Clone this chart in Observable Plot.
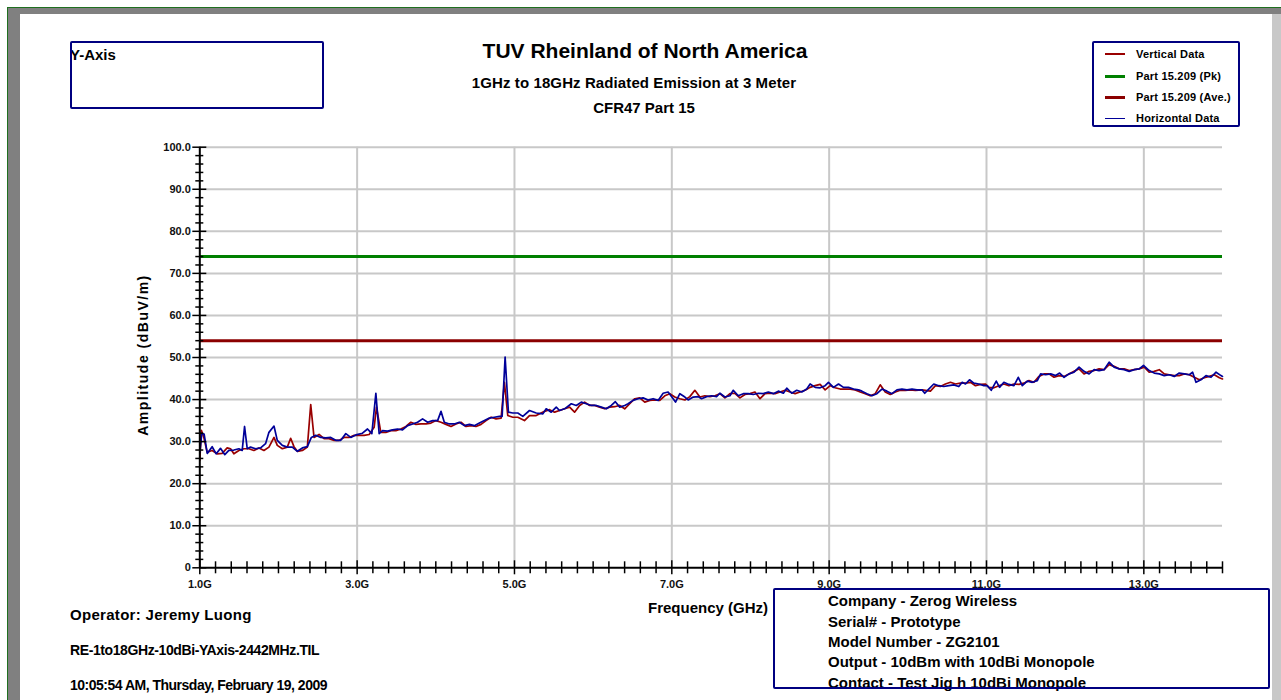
<!DOCTYPE html>
<html><head><meta charset="utf-8">
<script src="https://cdn.jsdelivr.net/npm/d3@7"></script>
<script src="https://cdn.jsdelivr.net/npm/@observablehq/plot@0.6"></script>
<style>
body{margin:0;background:#fff;}
#page{position:relative;width:1281px;height:700px;overflow:hidden;background:#fff;font-family:"Liberation Sans",Arial,sans-serif;font-weight:bold;color:#000;}
.t{position:absolute;white-space:nowrap;line-height:1;}
.box{position:absolute;box-sizing:border-box;border:2.5px solid #000080;border-radius:2px;}
.blk{position:absolute;}
#plotwrap{position:absolute;left:0;top:120px;}
</style></head>
<body><div id="page"><div id="plotwrap"></div></div>
<script>
// ---------------- data ----------------
const vertFreq = [1.000,1.020,1.051,1.093,1.157,1.221,1.284,1.348,1.391,1.433,1.497,1.560,1.624,1.688,1.752,1.815,1.879,1.943,1.985,2.049,2.112,2.155,2.197,2.240,2.304,2.367,2.410,2.452,2.516,2.580,2.643,2.707,2.771,2.834,2.898,2.962,3.025,3.089,3.153,3.216,3.246,3.301,3.365,3.429,3.492,3.556,3.620,3.683,3.747,3.811,3.875,3.938,4.002,4.066,4.129,4.193,4.257,4.320,4.384,4.448,4.511,4.575,4.639,4.703,4.766,4.830,4.872,4.915,4.979,5.042,5.127,5.191,5.276,5.382,5.446,5.510,5.573,5.637,5.701,5.764,5.828,5.892,5.955,6.019,6.083,6.147,6.210,6.274,6.338,6.401,6.465,6.529,6.592,6.656,6.720,6.783,6.847,6.911,6.974,7.038,7.102,7.166,7.229,7.293,7.357,7.420,7.484,7.548,7.611,7.675,7.739,7.802,7.866,7.930,7.993,8.057,8.121,8.185,8.248,8.312,8.376,8.439,8.503,8.567,8.630,8.694,8.758,8.822,8.885,8.949,9.013,9.076,9.140,9.204,9.267,9.331,9.395,9.458,9.522,9.586,9.649,9.713,9.777,9.841,9.904,9.968,10.032,10.095,10.181,10.223,10.287,10.351,10.415,10.478,10.542,10.606,10.669,10.733,10.797,10.860,10.924,10.988,11.030,11.094,11.158,11.221,11.285,11.349,11.412,11.476,11.540,11.603,11.667,11.731,11.794,11.858,11.922,11.986,12.049,12.113,12.177,12.240,12.304,12.368,12.431,12.495,12.559,12.622,12.686,12.750,12.814,12.877,12.941,13.005,13.068,13.132,13.196,13.259,13.323,13.387,13.450,13.514,13.578,13.641,13.705,13.769,13.832,13.896,13.960,14.000];
const vertAmp = [25.5,32.7,31.0,27.5,27.9,27.1,27.2,28.5,28.3,27.1,27.9,28.3,28.3,27.9,28.5,27.9,28.7,31.0,29.1,28.3,28.7,30.8,28.8,27.7,27.9,28.7,38.8,31.0,31.7,30.7,30.7,30.3,30.3,31.0,31.0,31.5,31.5,31.5,31.7,33.4,38.2,32.2,32.2,32.6,32.6,33.0,33.6,34.6,34.1,34.2,34.2,34.4,35.0,34.6,34.1,33.6,34.2,34.6,33.6,33.8,33.6,34.1,35.0,35.8,35.4,35.6,44.1,36.2,35.8,35.8,35.0,36.2,36.2,37.2,37.6,37.0,37.4,37.8,38.2,37.0,38.6,39.4,38.6,38.6,38.2,37.8,38.2,38.3,38.6,37.8,39.0,40.2,40.4,39.4,39.8,39.9,39.8,40.9,41.4,40.6,40.2,39.9,40.7,42.2,40.6,40.9,40.7,40.9,41.4,40.4,41.4,41.5,40.4,41.2,41.4,41.8,40.2,41.4,41.5,41.4,41.8,42.2,41.8,41.4,41.8,42.2,42.9,43.3,43.6,42.3,43.3,42.8,42.5,42.5,42.5,42.3,41.8,41.4,40.9,41.4,43.5,41.8,41.2,41.8,42.2,42.2,42.3,42.2,42.3,42.2,42.0,43.3,43.1,43.7,44.1,43.7,43.9,43.9,44.1,43.3,43.6,43.7,42.9,42.8,43.3,43.7,43.3,43.7,43.6,43.9,44.5,44.1,45.5,46.1,46.1,45.3,45.7,45.5,46.1,46.7,47.3,46.1,46.7,46.9,47.3,47.1,48.3,47.9,47.3,47.3,46.9,47.1,47.3,47.7,46.5,46.7,47.1,46.1,45.9,45.7,45.7,46.1,45.9,45.3,44.7,45.2,45.5,45.9,45.2,44.9];
const horizFreq = [1.000,1.025,1.055,1.095,1.157,1.208,1.263,1.318,1.369,1.433,1.497,1.539,1.569,1.603,1.645,1.709,1.773,1.836,1.879,1.943,1.985,2.049,2.112,2.176,2.240,2.304,2.367,2.418,2.473,2.537,2.601,2.664,2.728,2.792,2.856,2.919,2.983,3.068,3.132,3.187,3.238,3.280,3.323,3.386,3.450,3.514,3.577,3.641,3.705,3.768,3.832,3.896,3.960,4.023,4.066,4.108,4.172,4.235,4.299,4.363,4.427,4.490,4.554,4.618,4.681,4.745,4.809,4.843,4.881,4.923,4.978,5.042,5.106,5.191,5.276,5.361,5.403,5.467,5.531,5.573,5.637,5.722,5.786,5.849,5.913,5.977,6.040,6.104,6.168,6.231,6.282,6.338,6.401,6.444,6.507,6.571,6.635,6.698,6.762,6.826,6.890,6.953,7.017,7.047,7.102,7.166,7.208,7.272,7.335,7.378,7.442,7.505,7.569,7.611,7.675,7.739,7.781,7.845,7.909,7.972,8.036,8.100,8.163,8.227,8.291,8.354,8.418,8.461,8.524,8.588,8.652,8.715,8.758,8.822,8.885,8.949,8.991,9.055,9.119,9.182,9.246,9.310,9.374,9.416,9.480,9.543,9.607,9.671,9.734,9.798,9.862,9.925,9.989,10.053,10.116,10.181,10.215,10.266,10.330,10.393,10.457,10.521,10.584,10.648,10.691,10.733,10.784,10.839,10.903,10.967,11.009,11.060,11.124,11.166,11.221,11.285,11.349,11.404,11.455,11.518,11.582,11.646,11.688,11.752,11.816,11.879,11.930,11.986,12.049,12.113,12.177,12.240,12.304,12.368,12.431,12.495,12.559,12.622,12.686,12.750,12.814,12.877,12.941,12.996,13.068,13.132,13.196,13.259,13.323,13.387,13.450,13.514,13.578,13.620,13.663,13.726,13.790,13.854,13.918,13.981,14.000];
const horizAmp = [27.4,31.9,31.8,27.2,28.8,27.1,28.4,26.9,27.9,28.0,28.3,27.9,33.6,28.3,28.7,28.3,28.5,29.5,32.2,33.7,30.3,29.1,28.7,28.7,27.7,28.5,28.8,31.0,31.5,31.0,30.9,31.0,30.3,30.3,31.9,31.0,31.6,32.0,33.0,31.9,41.5,31.9,32.6,32.5,32.8,33.0,32.8,33.8,34.2,34.6,35.4,34.6,35.0,35.0,37.2,34.6,34.2,34.2,34.6,33.8,34.1,33.8,34.4,35.0,35.6,35.8,36.0,36.0,50.1,37.0,36.8,36.8,36.0,37.4,36.8,36.6,37.8,37.0,38.2,37.4,37.8,39.0,38.6,39.4,39.0,38.6,38.6,38.2,37.8,38.6,39.5,38.2,38.6,39.0,39.8,40.2,40.4,39.9,40.2,39.8,41.5,41.8,40.2,39.4,41.4,40.6,39.9,40.6,40.7,40.2,40.7,40.9,40.7,41.5,40.6,40.9,42.2,40.9,41.4,41.4,41.2,41.5,41.4,41.8,41.4,42.0,41.5,42.7,41.5,42.2,41.8,42.5,43.7,42.9,42.8,43.3,44.1,42.9,43.7,42.9,42.9,42.5,42.3,42.0,41.4,40.9,41.4,42.5,42.0,41.4,42.3,42.5,42.3,42.5,42.3,42.3,41.5,42.5,43.7,43.3,43.1,43.3,43.5,43.1,44.1,43.7,44.7,43.9,43.7,43.3,43.3,42.2,44.4,42.9,44.1,43.6,43.3,45.3,43.3,44.4,44.1,44.5,46.1,45.9,46.1,45.7,46.3,45.3,46.1,46.5,47.7,46.7,46.1,47.1,46.9,47.1,48.9,47.7,47.3,47.1,46.7,47.1,47.3,48.1,46.9,46.3,46.1,45.7,45.9,45.5,46.3,46.1,45.9,46.5,44.1,44.7,45.7,45.3,46.5,45.7,45.5];
const limitPk = 74;    // Part 15.209 (Pk)
const limitAve = 54;   // Part 15.209 (Ave.)
const xMajor = [1, 3, 5, 7, 9, 11, 13];
const xTickLabels = ["1.0G","3.0G","5.0G","7.0G","9.0G","11.0G","13.0G"];
const yMajor = [0, 10, 20, 30, 40, 50, 60, 70, 80, 90, 100];
const yTickLabels = ["0","10.0","20.0","30.0","40.0","50.0","60.0","70.0","80.0","90.0","100.0"];
const xDomain = [1, 14];
const yDomain = [0, 100];
const seriesNames = ["Vertical Data","Part 15.209 (Pk)","Part 15.209 (Ave.)","Horizontal Data"];
const seriesColors = ["#990000","#008000","#8b0000","#000099"];

// ---------------- chart ----------------
const vertical = vertFreq.map((f, i) => ({f, a: vertAmp[i]}));
const horizontal = horizFreq.map((f, i) => ({f, a: horizAmp[i]}));
const xMinor = d3.range(xDomain[0], xDomain[1] + 0.001, 0.2).map(v => +v.toFixed(1)).filter(v => !xMajor.includes(v));
const yMinor = d3.range(0, 101, 2).filter(v => !yMajor.includes(v));
const FONT = '"Liberation Sans", Arial, sans-serif';

const plot = Plot.plot({
  width: 1281, height: 480,
  marginTop: 26.7, marginBottom: 32.7, marginLeft: 199.3, marginRight: 59,
  style: {background: "transparent", fontFamily: FONT, fontSize: "11px", fontWeight: "bold", color: "#111", overflow: "visible"},
  x: {domain: xDomain},
  y: {domain: yDomain},
  marks: [
    Plot.gridY(yMajor.filter(d => d > 0), {stroke: "#c8c8c8", strokeOpacity: 1, strokeWidth: 2}),
    Plot.gridX(xMajor.filter(d => d > xDomain[0]), {stroke: "#c8c8c8", strokeOpacity: 1, strokeWidth: 2}),
    Plot.ruleY([limitPk], {stroke: seriesColors[1], strokeWidth: 3}),
    Plot.ruleY([limitAve], {stroke: seriesColors[2], strokeWidth: 3}),
    Plot.line(vertical, {x: "f", y: "a", stroke: seriesColors[0], strokeWidth: 1.7}),
    Plot.line(horizontal, {x: "f", y: "a", stroke: seriesColors[3], strokeWidth: 1.7}),
    Plot.ruleX([xDomain[0]], {stroke: "#000", strokeWidth: 2}),
    Plot.ruleY([yDomain[0]], {stroke: "#000", strokeWidth: 2}),
    Plot.ruleY(yMinor, {x1: xDomain[0], x2: xDomain[0], insetLeft: -4, insetRight: -4, stroke: "#000", strokeWidth: 1.5}),
    Plot.ruleY(yMajor, {x1: xDomain[0], x2: xDomain[0], insetLeft: -7, insetRight: -7, stroke: "#000", strokeWidth: 1.5}),
    Plot.ruleX(xMinor, {y1: yDomain[0], y2: yDomain[0], insetTop: -6, insetBottom: -6, stroke: "#000", strokeWidth: 1.5}),
    Plot.ruleX(xMajor, {y1: yDomain[0], y2: yDomain[0], insetTop: -7, insetBottom: -7, stroke: "#000", strokeWidth: 1.5}),
    Plot.axisY({ticks: yMajor, tickSize: 0, tickPadding: 9, tickFormat: d => yTickLabels[yMajor.indexOf(d)], label: null, fill: "#111"}),
    Plot.axisX({ticks: xMajor, tickSize: 0, tickPadding: 12, tickFormat: d => xTickLabels[xMajor.indexOf(d)], label: null, fill: "#111"})
  ]
});
document.getElementById("plotwrap").appendChild(plot);

// ---------------- page decoration & text ----------------
const page = document.getElementById("page");
function blk(l, t, w, h, bg) {
  const d = document.createElement("div");
  d.className = "blk";
  Object.assign(d.style, {left: l + "px", top: t + "px", width: w + "px", height: h + "px", background: bg});
  page.appendChild(d); return d;
}
function txt(s, x, baseline, fs, opt = {}) {
  const d = document.createElement("div");
  d.className = "t";
  d.textContent = s;
  d.style.fontSize = fs + "px";
  d.style.top = (baseline - 0.8465 * fs) + "px";
  d.style.left = x + "px";
  if (opt.center) d.style.transform = "translateX(-50%)";
  if (opt.ls != null) d.style.letterSpacing = opt.ls + "px";
  page.appendChild(d); return d;
}
function box(l, t, w, h) {
  const d = document.createElement("div");
  d.className = "box";
  Object.assign(d.style, {left: l + "px", top: t + "px", width: w + "px", height: h + "px"});
  page.appendChild(d); return d;
}

// frame
blk(7, 7, 1274, 1, "#1f6f1f");
blk(7, 7, 1, 693, "#1f6f1f");
blk(8, 8, 1273, 6, "#808080");
blk(8, 8, 12, 692, "#808080");
blk(1272, 14, 9, 686, "#c8c8c8");

// top-left box
txt("Y-Axis", 70, 60, 15);
box(70, 41, 254, 68);

// titles
txt("TUV Rheinland of North America", 645, 58, 21, {center: true});
txt("1GHz to 18GHz Radiated Emission at 3 Meter", 634, 88, 15, {center: true, ls: 0.1});
txt("CFR47 Part 15", 644, 113, 15, {center: true});

// legend
const legY = [54, 76.5, 97.5, 118.5];
const legW = [1.5, 3, 3, 1.5];
seriesNames.forEach((n, i) => {
  blk(1105, legY[i] - legW[i] / 2, 20, legW[i], seriesColors[i]);
  txt(n, 1136, legY[i] + 4, 11, {ls: 0.2});
});
box(1092, 41, 148, 86);

// axis titles
const yt = txt("Amplitude (dBuV/m)", 143, 0, 14, {ls: 1.5});
yt.style.top = "355px";
yt.style.transform = "translate(-50%,-50%) rotate(-90deg)";
txt("Frequency (GHz)", 648, 613, 15);

// bottom-left info
txt("Operator: Jeremy Luong", 70, 620, 15, {ls: 0.3});
txt("RE-1to18GHz-10dBi-YAxis-2442MHz.TIL", 70, 655, 14, {ls: -0.4});
txt("10:05:54 AM, Thursday, February 19, 2009", 70, 690, 14, {ls: -0.5});

// bottom-right info box
const info = ["Company - Zerog Wireless","Serial# - Prototype","Model Number - ZG2101","Output - 10dBm with 10dBi Monopole","Contact - Test Jig h 10dBi Monopole"];
info.forEach((s, i) => txt(s, 828, 606 + i * 20.3, 15, {ls: 0}));
box(773, 588, 497, 101);
</script>
</body></html>
